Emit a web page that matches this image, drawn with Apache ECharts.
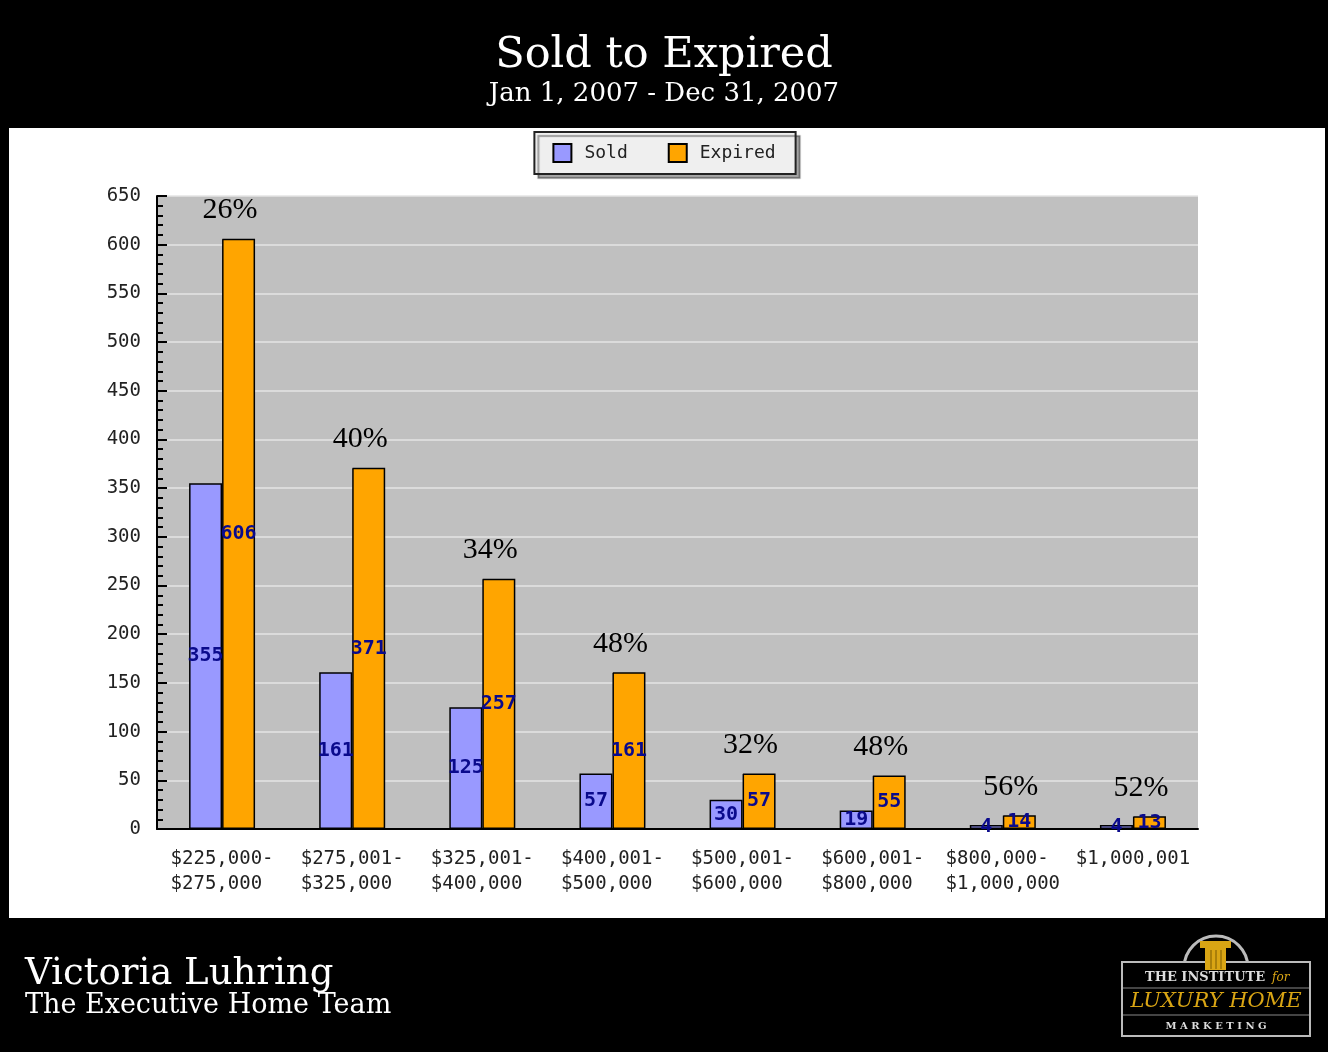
<!DOCTYPE html>
<html><head><meta charset="utf-8">
<script src="https://cdn.jsdelivr.net/npm/echarts@6/dist/echarts.min.js"></script>
<style>html,body{margin:0;padding:0;background:#000;}#c{width:1328px;height:1052px;}</style>
</head><body><div id="c"></div>
<script>
const categories = ['$225,000-\n$275,000', '$275,001-\n$325,000', '$325,001-\n$400,000', '$400,001-\n$500,000',
  '$500,001-\n$600,000', '$600,001-\n$800,000', '$800,000-\n$1,000,000', '$1,000,001'];
const soldValues = [355, 161, 125, 57, 30, 19, 4, 4];
const expiredValues = [606, 371, 257, 161, 57, 55, 14, 13];
const ratioLabels = ['26%', '40%', '34%', '48%', '32%', '48%', '56%', '52%'];
const yMin = 0, yMax = 650, yStep = 50;

const chart = echarts.init(document.getElementById('c'), null, {renderer: 'canvas'});
const mono = 'DejaVu Sans Mono';
const serif = 'DejaVu Serif';

chart.setOption({
  backgroundColor: '#000',
  animation: false,
  title: {
    text: 'Sold to Expired',
    subtext: 'Jan 1, 2007 - Dec 31, 2007',
    left: 'center', top: 34, itemGap: 4, padding: 0,
    textStyle: {fontFamily: serif, fontSize: 43, fontWeight: 'normal', color: '#fff'},
    subtextStyle: {fontFamily: serif, fontSize: 26, color: '#fff'}
  },
  legend: {
    data: ['Sold', 'Expired'], top: 132, left: 'center', icon: 'rect',
    backgroundColor: '#efefef', borderColor: '#222', borderWidth: 2,
    padding: [11, 20, 11, 18], itemWidth: 18, itemHeight: 18, itemGap: 40,
    textStyle: {fontFamily: mono, fontSize: 18, color: '#222', padding: [0, 0, 0, 8]},
    shadowColor: 'rgba(0,0,0,0.35)', shadowOffsetX: 4, shadowOffsetY: 4, shadowBlur: 1
  },
  grid: {left: 157, right: 130, top: 196, bottom: 223, show: true, backgroundColor: '#c0c0c0', borderWidth: 0},
  xAxis: {
    type: 'category', data: categories,
    axisLine: {lineStyle: {color: '#000', width: 2}},
    axisTick: {inside: true, length: 10, lineStyle: {color: '#000', width: 2}},
    axisLabel: {
      interval: 0,
      fontFamily: mono, fontSize: 19, color: '#222', margin: 18, lineHeight: 25,
      formatter: v => { const ls = v.split('\n'); const m = Math.max(...ls.map(s => s.length)); return ls.map(s => s.padEnd(m, ' ')).join('\n'); }
    }
  },
  yAxis: {
    type: 'value', min: yMin, max: yMax, interval: yStep,
    axisLine: {show: true, lineStyle: {color: '#000', width: 2}},
    axisTick: {show: true, inside: true, length: 10, lineStyle: {color: '#000', width: 2}},
    minorTick: {show: true, splitNumber: 5, length: 6, lineStyle: {color: '#000', width: 2}},
    splitLine: {lineStyle: {color: '#e4e4e4', width: 1.5}},
    axisLabel: {fontFamily: mono, fontSize: 19, color: '#222', margin: 16}
  },
  series: [
    {
      name: 'Sold', type: 'bar', data: soldValues, barWidth: 33, barGap: '0%',
      itemStyle: {color: '#9999ff', borderColor: '#000', borderWidth: 1.5},
      label: {show: true, position: 'inside', fontFamily: mono, fontWeight: 'bold', fontSize: 20, color: '#0a0a8c'}
    },
    {
      name: 'Expired', type: 'bar', data: expiredValues, barWidth: 33, barGap: '0%',
      itemStyle: {color: '#ffa500', borderColor: '#000', borderWidth: 1.5},
      label: {show: true, position: 'inside', fontFamily: mono, fontWeight: 'bold', fontSize: 20, color: '#0a0a8c'}
    },
    {
      name: 'ratio', type: 'scatter', data: expiredValues, symbol: 'circle', symbolSize: 1, silent: true,
      itemStyle: {color: '#c0c0c0', opacity: 1}, z: 5,
      label: {
        show: true, position: 'top', distance: 13, offset: [8, 0], opacity: 1,
        fontFamily: 'Liberation Serif', fontSize: 30, color: '#000', textBorderWidth: 0,
        formatter: p => ratioLabels[p.dataIndex]
      }
    }
  ],
  graphic: [
    {type: 'rect', z: -100, shape: {x: 9, y: 128, width: 1316, height: 790}, style: {fill: '#fff'}},
    {type: 'text', x: 25, y: 974, style: {text: 'Victoria Luhring', font: '37px "DejaVu Serif"', fill: '#fff', verticalAlign: 'middle'}},
    {type: 'text', x: 25, y: 1006, style: {text: 'The Executive Home Team', font: '27px "DejaVu Serif"', fill: '#fff', verticalAlign: 'middle'}},
    // logo
    {type: 'arc', shape: {cx: 1216, cy: 968, r: 32, startAngle: Math.PI, endAngle: 2 * Math.PI}, style: {stroke: '#bbb', lineWidth: 3, fill: '#000'}},
    {type: 'rect', shape: {x: 1122, y: 962, width: 188, height: 74}, style: {stroke: '#bbb', lineWidth: 2, fill: '#000'}},
    {type: 'rect', shape: {x: 1200, y: 941, width: 31, height: 7}, style: {fill: '#d9a514'}},
    {type: 'rect', shape: {x: 1205, y: 948, width: 21, height: 22}, style: {fill: '#d9a514'}},
    {type: 'line', shape: {x1: 1211, y1: 950, x2: 1211, y2: 969}, style: {stroke: '#7a5a00', lineWidth: 1}},
    {type: 'line', shape: {x1: 1216, y1: 950, x2: 1216, y2: 969}, style: {stroke: '#7a5a00', lineWidth: 1}},
    {type: 'line', shape: {x1: 1221, y1: 950, x2: 1221, y2: 969}, style: {stroke: '#7a5a00', lineWidth: 1}},
    {type: 'line', shape: {x1: 1123, y1: 988, x2: 1309, y2: 988}, style: {stroke: '#888', lineWidth: 1}},
    {type: 'line', shape: {x1: 1123, y1: 1015, x2: 1309, y2: 1015}, style: {stroke: '#888', lineWidth: 1}},
    {type: 'text', x: 1205, y: 978, style: {text: 'THE INSTITUTE', font: 'bold 13px "DejaVu Serif"', fill: '#ddd', align: 'center', verticalAlign: 'middle'}},
    {type: 'text', x: 1272, y: 978, style: {text: 'for', font: 'italic 12px "DejaVu Serif"', fill: '#d9a514', align: 'left', verticalAlign: 'middle'}},
    {type: 'text', x: 1216, y: 1002, style: {text: 'LUXURY HOME', font: 'italic 21px "DejaVu Serif"', fill: '#d9a514', align: 'center', verticalAlign: 'middle'}},
    {type: 'text', x: 1216, y: 1026, style: {text: 'M A R K E T I N G', font: 'bold 10px "DejaVu Serif"', fill: '#ddd', align: 'center', verticalAlign: 'middle'}}
  ]
});
</script></body></html>
